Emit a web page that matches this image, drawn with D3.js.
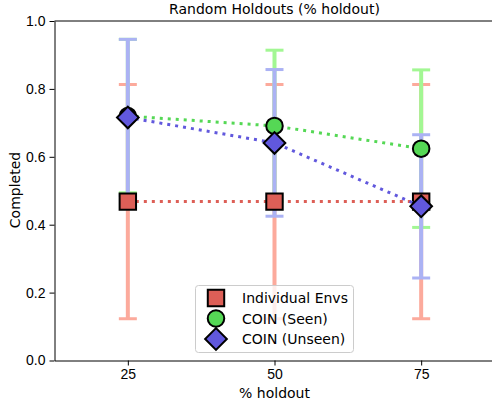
<!DOCTYPE html>
<html>
<head>
<meta charset="utf-8">
<script src="https://cdn.jsdelivr.net/npm/d3@7"></script>
<style>
  body { margin: 0; background: #fff; }
  svg { font-family: "DejaVu Sans", sans-serif; }
</style>
</head>
<body>
<svg width="492" height="405"></svg>
<script>
const HOLDOUTS = [25, 50, 75]
const INDIV_MEAN = [0.468, 0.468, 0.468]
const INDIV_ERR = [0.345, 0.345, 0.345]
const SEEN_MEAN = [0.720, 0.691, 0.624]
const SEEN_ERR = [0.226, 0.223, 0.232]
const UNSEEN_MEAN = [0.716, 0.641, 0.454]
const UNSEEN_ERR = [0.230, 0.216, 0.211]
const Y_TICKS = [0, 0.2, 0.4, 0.6, 0.8, 1.0]
const LABELS = ["Individual Envs", "COIN (Seen)", "COIN (Unseen)"]

const FS = 14

const SERIES = [
  {name: LABELS[0], mean: INDIV_MEAN, err: INDIV_ERR, fill: "#dd5f57", bar: "#fcaa9c", sym: d3.symbolSquare, size: 270, rot: 0},
  {name: LABELS[1], mean: SEEN_MEAN, err: SEEN_ERR, fill: "#55d855", bar: "#a2f793", sym: d3.symbolCircle, size: 215, rot: 0},
  {name: LABELS[2], mean: UNSEEN_MEAN, err: UNSEEN_ERR, fill: "#6158dd", bar: "#abb2f4", sym: d3.symbolSquare, size: 235, rot: 45}
]

const svg = d3.select("svg")

const xScale = d3.scaleLinear().domain([12.5, 87.5]).range([54.5, 494.5])
const yScale = d3.scaleLinear().domain([0, 1]).range([360.5, 21])

// axes
svg.append("g")
  .attr("transform", "translate(0,360.5)")
  .call(d3.axisBottom(xScale).tickValues(HOLDOUTS).tickSize(5).tickPadding(4).tickSizeOuter(0))
  .call(g => g.selectAll("text").attr("font-size", FS).attr("fill", "#000"))

svg.append("g")
  .attr("transform", "translate(54.5,0)")
  .call(d3.axisLeft(yScale).tickValues(Y_TICKS).tickFormat(d3.format(".1f")).tickSize(5).tickPadding(4).tickSizeOuter(0))
  .call(g => g.selectAll("text").attr("font-size", FS).attr("fill", "#000"))

svg.append("line")
  .attr("x1", 54.5).attr("x2", 492)
  .attr("y1", 21).attr("y2", 21)
  .attr("stroke", "#000")

// error bars
const bars = svg.append("g")
SERIES.forEach(s => {
  const g = bars.append("g").attr("stroke", s.bar)
  g.selectAll(".stem")
    .data(HOLDOUTS)
    .enter()
    .append("line")
    .attr("x1", d => xScale(d)).attr("x2", d => xScale(d))
    .attr("y1", (d, i) => yScale(s.mean[i] - s.err[i]))
    .attr("y2", (d, i) => yScale(s.mean[i] + s.err[i]))
    .attr("stroke-width", 4)
  g.selectAll(".cap")
    .data(HOLDOUTS.flatMap((d, i) => [[d, s.mean[i] - s.err[i]], [d, s.mean[i] + s.err[i]]]))
    .enter()
    .append("line")
    .attr("x1", d => xScale(d[0]) - 9).attr("x2", d => xScale(d[0]) + 9)
    .attr("y1", d => yScale(d[1])).attr("y2", d => yScale(d[1]))
    .attr("stroke-width", 3)
})

// dotted lines + markers
SERIES.forEach(s => {
  const pts = HOLDOUTS.map((d, i) => [d, s.mean[i]])
  svg.append("path")
    .attr("d", d3.line().x(d => xScale(d[0])).y(d => yScale(d[1]))(pts))
    .attr("fill", "none")
    .attr("stroke", s.fill)
    .attr("stroke-width", 3)
    .attr("stroke-dasharray", "3,5")
  svg.append("g")
    .selectAll("path")
    .data(pts)
    .enter()
    .append("path")
    .attr("transform", d => `translate(${xScale(d[0])},${yScale(d[1])}) rotate(${s.rot})`)
    .attr("d", d3.symbol().type(s.sym).size(s.size))
    .attr("fill", s.fill)
    .attr("stroke", "#000")
    .attr("stroke-width", 2)
})

// title & labels
svg.append("text")
  .attr("x", 274.5).attr("y", 14)
  .attr("text-anchor", "middle").attr("font-size", FS)
  .text("Random Holdouts (% holdout)")

svg.append("text")
  .attr("x", 274.5).attr("y", 398)
  .attr("text-anchor", "middle").attr("font-size", FS)
  .text("% holdout")

svg.append("text")
  .attr("transform", "translate(20,190) rotate(-90)")
  .attr("text-anchor", "middle").attr("font-size", FS)
  .text("Completed")

// legend
const legend = svg.append("g")
legend.append("rect")
  .attr("x", 195.5).attr("y", 285.5)
  .attr("width", 158).attr("height", 67)
  .attr("rx", 3)
  .attr("fill", "#fff").attr("fill-opacity", 0.8)
  .attr("stroke", "#cccccc")

const rows = legend.selectAll(".row")
  .data(SERIES)
  .enter()
  .append("g")
  .attr("transform", (d, i) => `translate(216,${298 + i * 20.5})`)

rows.append("path")
  .attr("transform", d => `rotate(${d.rot})`)
  .attr("d", d => d3.symbol().type(d.sym).size(d.size)())
  .attr("fill", d => d.fill)
  .attr("stroke", "#000")
  .attr("stroke-width", 2)

rows.append("text")
  .attr("x", 26).attr("y", 5)
  .attr("font-size", FS)
  .text(d => d.name)
</script>
</body>
</html>
